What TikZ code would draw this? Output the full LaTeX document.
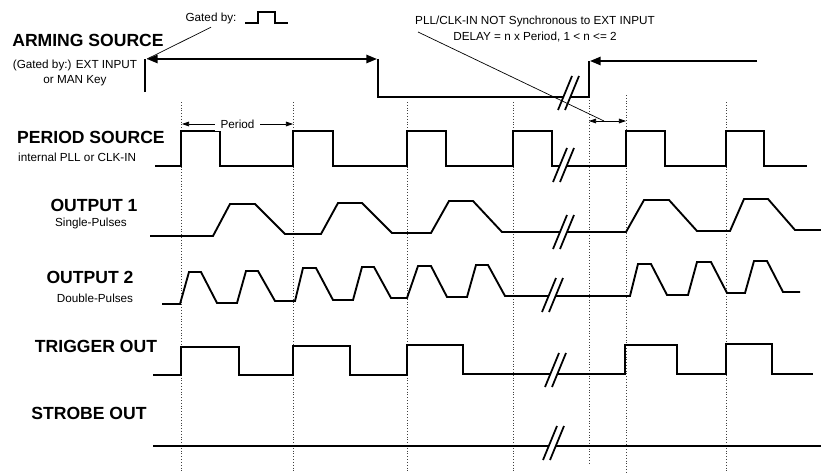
\documentclass[tikz,border=0pt]{standalone}
\usepackage{fontspec}
\setmainfont{Liberation Sans}
\usetikzlibrary{arrows.meta}
\tikzset{
  title/.style={
    font=\bfseries\fontsize{15}{17}\selectfont,
    inner sep=0pt
  },
  sub/.style={
    font=\fontsize{10}{13.5}\selectfont,
    inner sep=0pt
  },
  wave/.style={line width=1.6pt, line join=miter},
  grid/.style={line width=0.6pt, dash pattern=on 0.6pt off 1.8pt, black!75},
  arm/.style={line width=1.6pt, >={Triangle[length=9pt,width=7pt]}},
  dim/.style={line width=0.6pt, >={Triangle[length=6pt,width=4pt]}, <->},
  pointer/.style={line width=0.6pt},
  brk/.style={line width=1.5pt}
}
% two slashes with a gap between them
\newcommand{\breakmark}[2]{%
  \fill[white] (#1-7,#2+17) -- (#1+7,#2-17) -- (#1+14,#2-17) -- (#1,#2+17) -- cycle;
  \draw[brk] (#1-7,#2+17) -- (#1+7,#2-17) (#1,#2+17) -- (#1+14,#2-17);
}

\begin{document}
\begin{tikzpicture}[x=0.03cm, y=-0.03cm]
  \useasboundingbox (0,0) rectangle (821,472);

  % time marks
  \foreach \x in {181,293,407,513,726}
    \draw[grid] (\x,102) -- (\x,472);
  \draw[grid] (626,95) -- (626,472);
  \draw[grid] (589,100) -- (589,465);

  % signal names
  \node[title] (arming) at (88,40) {ARMING SOURCE};
  \node[sub, align=center] (armingsub) at (75,73) {(Gated by:) EXT INPUT\\or MAN Key};
  \node[title, anchor=west] (period) at (17,137) {PERIOD SOURCE};
  \node[sub, anchor=west] (periodsub) at (18,157) {internal PLL or CLK-IN};
  \node[title] (out1) at (94,205) {OUTPUT 1};
  \node[sub] (out1sub) at (91,223) {Single-Pulses};
  \node[title] (out2) at (90,277) {OUTPUT 2};
  \node[sub] (out2sub) at (95,298) {Double-Pulses};
  \node[title] (trig) at (96,346) {TRIGGER OUT};
  \node[title] (strobe) at (89,413) {STROBE OUT};

  % notes
  \node[sub, inner sep=3pt] (gated) at (211,18) {Gated by:};
  \node[sub, align=center] (pll) at (535,29) {PLL/CLK-IN NOT Synchronous to EXT INPUT\\DELAY = n x Period, 1 < n <= 2};
  \draw[wave, line width=1.4pt] (245,23) -- (258,23) -- (258,12) -- (275,12) -- (275,23) -- (288,23);

  % arming source
  \coordinate (a1) at (147,59);
  \coordinate (a2) at (377,59);
  \coordinate (a3) at (757,61);
  \coordinate (a4) at (590,61);
  \draw[wave] (145,92) -- (145,59);
  \draw[wave] (378,59) -- (378,97) -- (589,97) -- (589,61);
  \draw[arm, <->] (a1) -- (a2);
  \draw[arm, ->] (a3) -- (a4);

  % period source
  \draw[wave] (155,166) -- (181,166) -- (181,131) -- (220,131) -- (220,166)
    -- (293,166) -- (293,131) -- (333,131) -- (333,166)
    -- (407,166) -- (407,131) -- (446,131) -- (446,166)
    -- (513,166) -- (513,131) -- (552,131) -- (552,166)
    -- (626,166) -- (626,131) -- (665,131) -- (665,166)
    -- (726,166) -- (726,131) -- (764,131) -- (764,166) -- (807,166);

  % output 1
  \draw[wave] (150,236) -- (213,236) -- (230,204) -- (255,204) -- (285,234)
    -- (321,234) -- (338,203) -- (362,203) -- (392,233)
    -- (431,233) -- (449,201) -- (473,201) -- (502,232)
    -- (626,232) -- (644,200) -- (669,200) -- (697,231)
    -- (730,231) -- (744,199) -- (768,199) -- (795,230) -- (821,230);

  % output 2
  \draw[wave] (162,304) -- (180,304) -- (189,272) -- (201,272) -- (217,303)
    -- (237,303) -- (246,271) -- (258,271) -- (275,301)
    -- (295,301) -- (303,268) -- (316,268) -- (333,300)
    -- (353,300) -- (362,267) -- (374,267) -- (391,298)
    -- (407,298) -- (418,266) -- (431,266) -- (447,297)
    -- (467,297) -- (476,265) -- (488,265) -- (505,296)
    -- (630,296) -- (638,264) -- (651,264) -- (667,295)
    -- (688,295) -- (697,262) -- (711,262) -- (727,293)
    -- (745,293) -- (754,261) -- (767,261) -- (783,292) -- (800,292);

  % trigger out
  \draw[wave] (153,375) -- (181,375) -- (181,347) -- (239,347) -- (239,375)
    -- (293,375) -- (293,346) -- (350,346) -- (350,375)
    -- (407,375) -- (407,345) -- (463,345) -- (463,374)
    -- (625,374) -- (625,345) -- (677,345) -- (677,374)
    -- (726,374) -- (726,344) -- (772,344) -- (772,374) -- (813,374);

  % strobe out
  \draw[wave] (153,446) -- (821,446);

  % time breaks
  \breakmark{565}{93}
  \breakmark{560}{165}
  \breakmark{560}{232}
  \breakmark{549}{295}
  \breakmark{552}{370}
  \breakmark{550}{443}

  % period and delay
  \coordinate (p1) at (182,124);
  \coordinate (p2) at (293,124);
  \draw[dim] (p1) -- node[sub, fill=white, inner xsep=5pt, inner ysep=2pt] (plabel) {Period} (p2);
  \coordinate (d1) at (589,121);
  \coordinate (d2) at (626,121);
  \draw[dim] (d1) -- (d2);

  % pointers
  \coordinate (pllp) at (418,32);
  \coordinate (dmid) at (604,121);
  \draw[pointer] (gated.south) -- (a1);
  \draw[pointer] (pllp) -- (dmid);
\end{tikzpicture}
\end{document}
